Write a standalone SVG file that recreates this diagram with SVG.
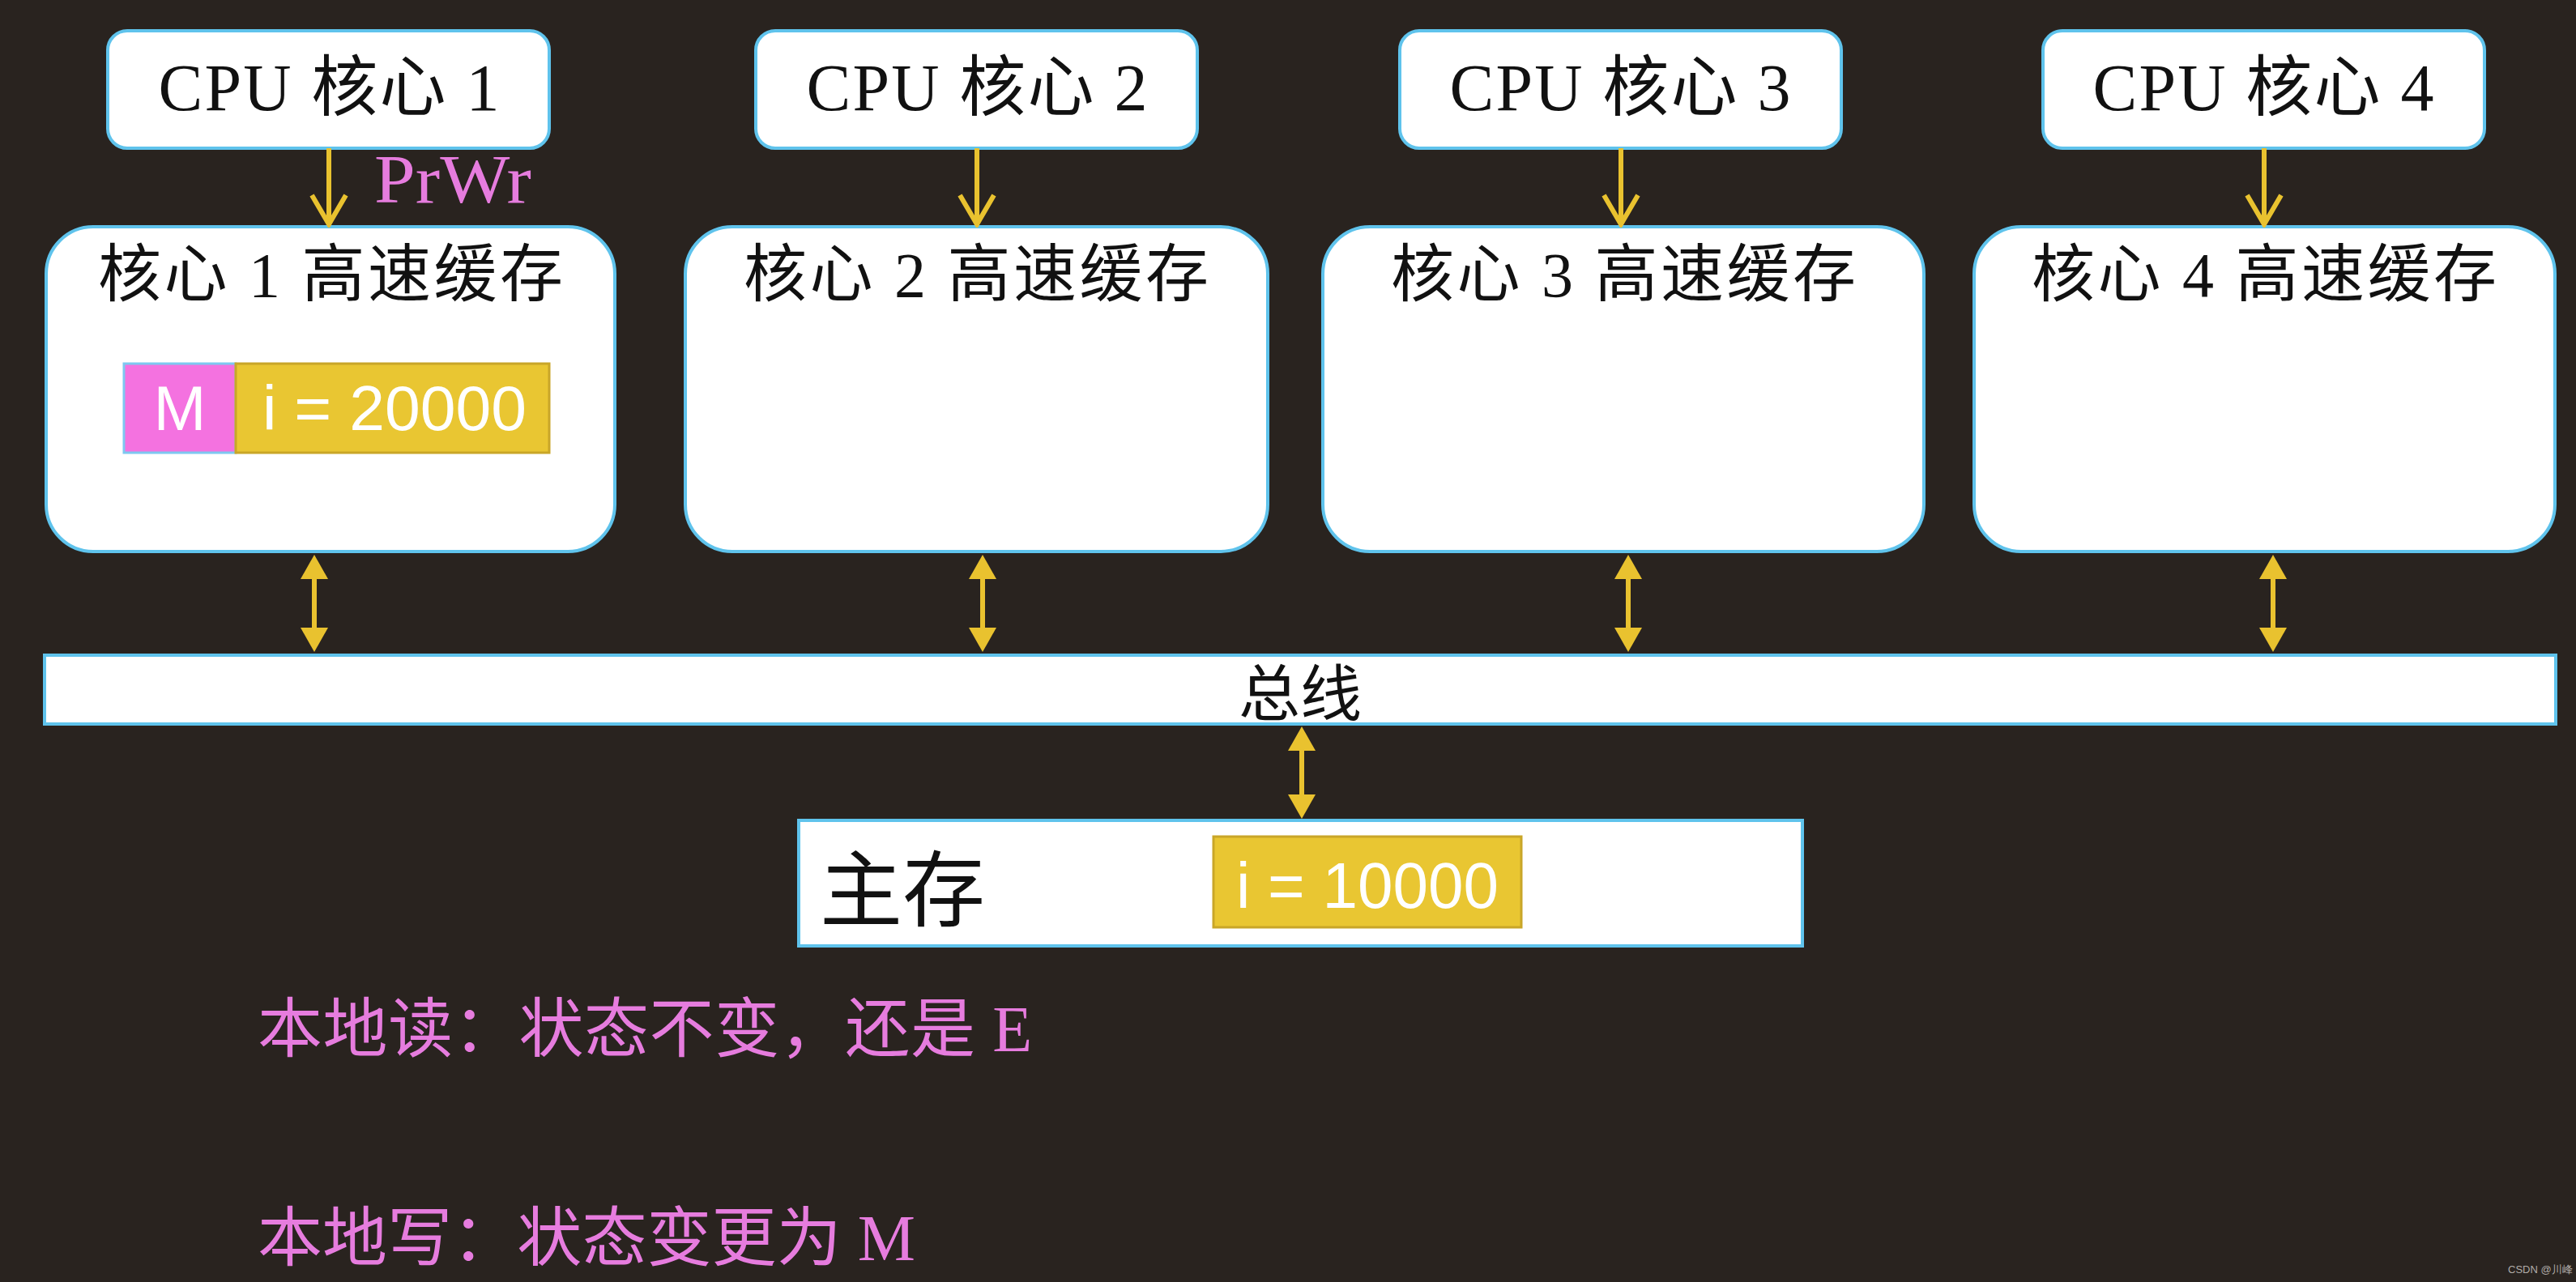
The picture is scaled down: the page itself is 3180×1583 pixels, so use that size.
<svg xmlns="http://www.w3.org/2000/svg" width="3180" height="1583" viewBox="0 0 3180 1583">
<style>
.bg{fill:#29231f}
.box{fill:#ffffff;stroke:#5fc3ec;stroke-width:4}
.lbl{font-family:"Liberation Serif","Noto Sans CJK SC",serif;fill:#111;font-size:78px}
.cpu{font-size:82px}
.cjk{font-family:"Noto Sans CJK SC","Liberation Serif",sans-serif;fill:#111}
.pink{font-family:"Liberation Serif","Noto Sans CJK SC",serif;fill:#e67cde}
.val{font-family:"Liberation Sans",Arial,sans-serif;fill:#ffffff}
.yel{fill:#e9c632;stroke:#c9a628;stroke-width:3}
.mag{fill:#f472e0;stroke:#7ec8f0;stroke-width:3}
.arr{stroke:#e9c22f;stroke-width:6;fill:none}
</style>
<defs>
<marker id="chev" markerUnits="userSpaceOnUse" viewBox="0 0 44 48" markerWidth="44" markerHeight="48" refX="40" refY="24" orient="auto">
<path d="M4,3 L40,24 L4,45" fill="none" stroke="#e9c22f" stroke-width="6" stroke-linejoin="miter"/>
</marker>
<marker id="tri" markerUnits="userSpaceOnUse" viewBox="0 0 30 34" markerWidth="30" markerHeight="34" refX="2" refY="17" orient="auto-start-reverse">
<path d="M0,0 L30,17 L0,34 z" fill="#e9c22f"/>
</marker>
</defs>
<rect class="bg" x="0" y="0" width="3180" height="1583"/>

<g id="cpu1"><rect class="box" x="133" y="38" width="545" height="145" rx="24"/><text class="lbl cpu" x="406" y="136" text-anchor="middle" textLength="421" lengthAdjust="spacing">CPU 核心 1</text></g>
<g id="cpu2"><rect class="box" x="933" y="38" width="545" height="145" rx="24"/><text class="lbl cpu" x="1206" y="136" text-anchor="middle" textLength="421" lengthAdjust="spacing">CPU 核心 2</text></g>
<g id="cpu3"><rect class="box" x="1728" y="38" width="545" height="145" rx="24"/><text class="lbl cpu" x="2000" y="136" text-anchor="middle" textLength="421" lengthAdjust="spacing">CPU 核心 3</text></g>
<g id="cpu4"><rect class="box" x="2522" y="38" width="545" height="145" rx="24"/><text class="lbl cpu" x="2794" y="136" text-anchor="middle" textLength="421" lengthAdjust="spacing">CPU 核心 4</text></g>

<g id="cache1"><rect class="box" x="57" y="280" width="702" height="401" rx="58"/><text class="lbl" x="408" y="366" text-anchor="middle" textLength="574" lengthAdjust="spacing">核心 1 高速缓存</text>
<rect class="mag" x="153" y="449" width="138" height="110"/><rect class="yel" x="291" y="449" width="387" height="110"/>
<text class="val" x="222" y="531" text-anchor="middle" font-size="78">M</text>
<text class="val" x="487" y="531" text-anchor="middle" font-size="78" textLength="326" lengthAdjust="spacingAndGlyphs">i = 20000</text></g>
<g id="cache2"><rect class="box" x="846" y="280" width="719" height="401" rx="58"/><text class="lbl" x="1205" y="366" text-anchor="middle" textLength="574" lengthAdjust="spacing">核心 2 高速缓存</text></g>
<g id="cache3"><rect class="box" x="1633" y="280" width="742" height="401" rx="58"/><text class="lbl" x="2004" y="366" text-anchor="middle" textLength="574" lengthAdjust="spacing">核心 3 高速缓存</text></g>
<g id="cache4"><rect class="box" x="2437" y="280" width="717" height="401" rx="58"/><text class="lbl" x="2795" y="366" text-anchor="middle" textLength="574" lengthAdjust="spacing">核心 4 高速缓存</text></g>

<g id="bus"><rect class="box" x="55" y="809" width="3100" height="85"/><text class="cjk" x="1605" y="884" text-anchor="middle" font-size="76">总线</text></g>

<g id="memory"><rect class="box" x="986" y="1013" width="1239" height="155"/><text class="cjk" x="1012" y="1136" font-size="102">主存</text>
<rect class="yel" x="1498" y="1033" width="380" height="112"/>
<text class="val" x="1688" y="1121" text-anchor="middle" font-size="80" textLength="324" lengthAdjust="spacingAndGlyphs">i = 10000</text></g>

<g id="connectors">
<line class="arr" x1="406" y1="183" x2="406" y2="277" marker-end="url(#chev)"/>
<line class="arr" x1="1206" y1="183" x2="1206" y2="277" marker-end="url(#chev)"/>
<line class="arr" x1="2001" y1="183" x2="2001" y2="277" marker-end="url(#chev)"/>
<line class="arr" x1="2795" y1="183" x2="2795" y2="277" marker-end="url(#chev)"/>
<line class="arr" x1="388" y1="713" x2="388" y2="777" marker-start="url(#tri)" marker-end="url(#tri)"/>
<line class="arr" x1="1213" y1="713" x2="1213" y2="777" marker-start="url(#tri)" marker-end="url(#tri)"/>
<line class="arr" x1="2010" y1="713" x2="2010" y2="777" marker-start="url(#tri)" marker-end="url(#tri)"/>
<line class="arr" x1="2806" y1="713" x2="2806" y2="777" marker-start="url(#tri)" marker-end="url(#tri)"/>
<line class="arr" x1="1607" y1="925" x2="1607" y2="983" marker-start="url(#tri)" marker-end="url(#tri)"/>
<text class="pink" x="462" y="250" font-size="84" textLength="194" lengthAdjust="spacingAndGlyphs">PrWr</text>
</g>

<text class="pink" x="318" y="1298" font-size="80" textLength="956" lengthAdjust="spacing">本地读：状态不变，还是 E</text>
<text class="pink" x="318" y="1556" font-size="80" textLength="812" lengthAdjust="spacing">本地写：状态变更为 M</text>
<text x="3096" y="1572" font-family="Liberation Sans,Arial,sans-serif" font-size="13" fill="#b0aca8">CSDN @川峰</text>
</svg>
